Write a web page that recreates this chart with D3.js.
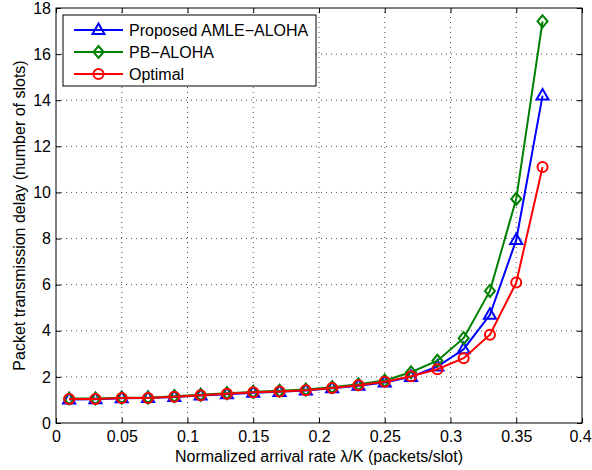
<!DOCTYPE html>
<html>
<head>
<meta charset="utf-8">
<script src="https://cdn.jsdelivr.net/npm/d3@7"></script>
<style>
  body { margin: 0; background: #fff; }
  svg { font-family: "Liberation Sans", Arial, sans-serif; }
</style>
</head>
<body>
<svg id="chart" width="592" height="470"></svg>
<script>
// data
var rates = [0.01, 0.03, 0.05, 0.07, 0.09, 0.11, 0.13, 0.15, 0.17, 0.19, 0.21, 0.23, 0.25, 0.27, 0.29, 0.31, 0.33, 0.35, 0.37];
var amleDelay = [1.02, 1.03, 1.07, 1.08, 1.13, 1.19, 1.25, 1.31, 1.35, 1.41, 1.51, 1.62, 1.76, 2.0, 2.45, 3.2, 4.69, 7.94, 14.2];
var pbDelay = [1.06, 1.06, 1.1, 1.1, 1.16, 1.22, 1.29, 1.35, 1.4, 1.45, 1.55, 1.68, 1.84, 2.2, 2.7, 3.68, 5.73, 9.72, 17.42];
var optDelay = [1.04, 1.04, 1.08, 1.08, 1.14, 1.2, 1.27, 1.33, 1.37, 1.42, 1.52, 1.64, 1.79, 2.03, 2.33, 2.81, 3.83, 6.09, 11.1];
var xTicks = [0, 0.05, 0.1, 0.15, 0.2, 0.25, 0.3, 0.35, 0.4];
var yTicks = [0, 2, 4, 6, 8, 10, 12, 14, 16, 18];

var series = [
    {name: "Proposed AMLE\u2212ALOHA", values: amleDelay, color: "#0000ff", marker: "triangle"},
    {name: "PB\u2212ALOHA", values: pbDelay, color: "#008000", marker: "diamond"},
    {name: "Optimal", values: optDelay, color: "#ff0000", marker: "circle"}
];

var margin = {left: 56, top: 8, right: 10, bottom: 47};
var W = 592, H = 470;
var svg = d3.select("#chart");

var x = d3.scaleLinear().domain([0, 0.4]).range([margin.left, W - margin.right]);
var y = d3.scaleLinear().domain([0, 18]).range([H - margin.bottom, margin.top]);

// grid
var grid = svg.append("g");
grid.selectAll("line.gx").data(xTicks.slice(1, -1)).enter().append("line")
    .attr("x1", function(d){ return x(d); }).attr("x2", function(d){ return x(d); })
    .attr("y1", y(0)).attr("y2", y(18))
    .attr("stroke", "#222").attr("stroke-width", 0.8).attr("stroke-dasharray", "1,4");
grid.selectAll("line.gy").data(yTicks.slice(1, -1)).enter().append("line")
    .attr("y1", function(d){ return y(d); }).attr("y2", function(d){ return y(d); })
    .attr("x1", x(0)).attr("x2", x(0.4))
    .attr("stroke", "#222").attr("stroke-width", 0.8).attr("stroke-dasharray", "1,4");

// axes, ticks inward on all sides
function styleAxis(g) {
    g.select(".domain").remove();
    g.selectAll("line").attr("stroke", "#000");
    g.selectAll("text").attr("font-size", 16).attr("fill", "#000");
}
svg.append("g").attr("transform", "translate(0," + y(0) + ")")
    .call(d3.axisBottom(x).tickValues(xTicks).tickSize(-5).tickPadding(8).tickFormat(d3.format("")))
    .call(styleAxis)
    .selectAll("text").filter(function(d){ return d === 0.4; }).attr("dx", -2);
svg.append("g").attr("transform", "translate(0," + y(18) + ")")
    .call(d3.axisTop(x).tickValues(xTicks).tickSize(-5).tickFormat(""))
    .call(styleAxis);
svg.append("g").attr("transform", "translate(" + x(0) + ",0)")
    .call(d3.axisLeft(y).tickValues(yTicks).tickSize(-5).tickPadding(5))
    .call(styleAxis);
svg.append("g").attr("transform", "translate(" + x(0.4) + ",0)")
    .call(d3.axisRight(y).tickValues(yTicks).tickSize(-5).tickFormat(""))
    .call(styleAxis);

svg.append("rect")
    .attr("x", x(0)).attr("y", y(18))
    .attr("width", x(0.4) - x(0)).attr("height", y(0) - y(18))
    .attr("fill", "none").attr("stroke", "#000").attr("stroke-width", 1);

// markers
function markerPath(type) {
    if (type === "triangle") return "M0,-6.5L6,4L-6,4Z";
    if (type === "diamond") return "M0,-6L5,0L0,6L-5,0Z";
    return "M5,0A5,5 0 1,1 -5,0A5,5 0 1,1 5,0Z";
}

var line = d3.line()
    .x(function(d){ return x(d[0]); })
    .y(function(d){ return y(d[1]); });

series.forEach(function(s) {
    var pts = rates.map(function(r, i){ return [r, s.values[i]]; });
    var g = svg.append("g");
    g.append("path").datum(pts).attr("d", line)
        .attr("fill", "none").attr("stroke", s.color).attr("stroke-width", 2);
    g.selectAll("path.m").data(pts).enter().append("path")
        .attr("class", "m")
        .attr("transform", function(d){ return "translate(" + x(d[0]) + "," + y(d[1]) + ")"; })
        .attr("d", markerPath(s.marker))
        .attr("fill", "none").attr("stroke", s.color).attr("stroke-width", 2);
});

// legend
var leg = svg.append("g").attr("transform", "translate(63,15)");
leg.append("rect").attr("width", 253).attr("height", 71)
    .attr("fill", "#fff").attr("stroke", "#000").attr("stroke-width", 1);
series.forEach(function(s, i) {
    var ly = 15 + i * 22;
    leg.append("line").attr("x1", 11).attr("x2", 60).attr("y1", ly).attr("y2", ly)
        .attr("stroke", s.color).attr("stroke-width", 2);
    leg.append("path")
        .attr("transform", "translate(35.5," + ly + ")")
        .attr("d", markerPath(s.marker))
        .attr("fill", "none").attr("stroke", s.color).attr("stroke-width", 2);
    leg.append("text").attr("x", 66).attr("y", ly).attr("dy", "0.35em")
        .attr("font-size", 16).text(s.name);
});

// axis labels
svg.append("text")
    .attr("x", (x(0) + x(0.4)) / 2).attr("y", 462)
    .attr("text-anchor", "middle").attr("font-size", 16)
    .text("Normalized arrival rate \u03bb/K (packets/slot)");
svg.append("text")
    .attr("transform", "translate(25," + ((y(0) + y(18)) / 2) + ") rotate(-90)")
    .attr("text-anchor", "middle").attr("font-size", 16)
    .text("Packet transmission delay (number of slots)");
</script>
</body>
</html>
